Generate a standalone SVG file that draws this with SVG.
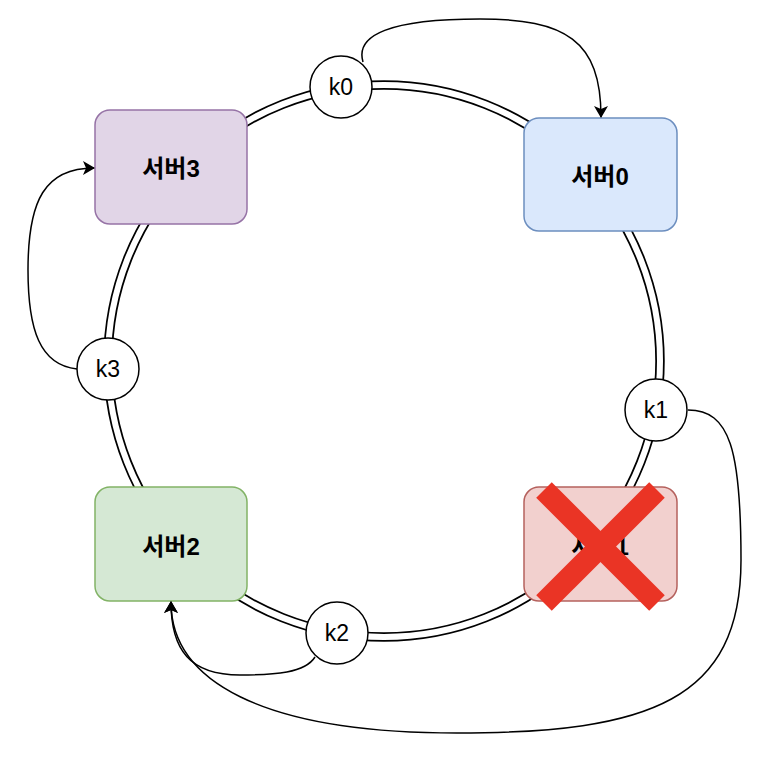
<svg xmlns="http://www.w3.org/2000/svg" width="760" height="758" viewBox="0 0 760 758">
<defs>
<marker id="arr" viewBox="0 0 12 14" refX="11" refY="7" markerWidth="12" markerHeight="14" markerUnits="userSpaceOnUse" orient="auto">
<path d="M0,0 L12,7 L0,14 L3,7 Z" fill="#000"/>
</marker>
<style>
.box{stroke-width:1.5}
.lbl{font-family:"Liberation Sans","Noto Sans CJK KR",sans-serif;font-size:24px;font-weight:bold;fill:#000;text-anchor:middle;dominant-baseline:central}
.k{fill:#fff;stroke:#000;stroke-width:1.5}
.kt{font-family:"Liberation Sans","Noto Sans CJK KR",sans-serif;font-size:23px;fill:#000;text-anchor:middle;dominant-baseline:central}
.c{fill:none;stroke:#000;stroke-width:1.5}
</style>
</defs>
<rect width="760" height="758" fill="#fff"/>
<g id="ring">
<circle cx="384" cy="361" r="276" fill="none" stroke="#000" stroke-width="9.5"/>
<circle cx="384" cy="361" r="276" fill="none" stroke="#fff" stroke-width="6"/>
</g>
<g id="server3">
<rect class="box" x="95" y="110" width="152" height="114" rx="15" fill="#e1d5e7" stroke="#9673a6"/>
<text class="lbl" x="171" y="168">서버3</text>
</g>
<g id="server0">
<rect class="box" x="524" y="118" width="153" height="113" rx="15" fill="#dae8fc" stroke="#6c8ebf"/>
<text class="lbl" x="600" y="176">서버0</text>
</g>
<g id="server2">
<rect class="box" x="95" y="487" width="152" height="114" rx="15" fill="#d5e8d4" stroke="#82b366"/>
<text class="lbl" x="171" y="546">서버2</text>
</g>
<g id="server1">
<rect class="box" x="524" y="487" width="153" height="114" rx="15" fill="#f2d0ce" stroke="#b5615d"/>
<text class="lbl" x="600" y="546">서버1</text>
<line x1="544" y1="490" x2="657" y2="603" stroke="#ea3425" stroke-width="22"/>
<line x1="657" y1="490" x2="544" y2="603" stroke="#ea3425" stroke-width="22"/>
</g>
<g id="k0">
<circle class="k" cx="341" cy="87" r="31"/>
<text class="kt" x="341" y="87">k0</text>
</g>
<g id="k1">
<circle class="k" cx="656" cy="410" r="31"/>
<text class="kt" x="656" y="410">k1</text>
</g>
<g id="k2">
<circle class="k" cx="337" cy="633" r="31"/>
<text class="kt" x="337" y="633">k2</text>
</g>
<g id="k3">
<circle class="k" cx="108" cy="369" r="31"/>
<text class="kt" x="108" y="369">k3</text>
</g>
<g id="connectors">
<path class="c" d="M363,62 C355,35 390,19 480,19 C565,19 601,40 601,117" marker-end="url(#arr)"/>
<path class="c" d="M77,369 C40,365 28,330 28,270 C28,200 45,168 94,168" marker-end="url(#arr)"/>
<path class="c" d="M315,657 C305,673 275,675 240,675 C190,675 171,650 171,602" marker-end="url(#arr)"/>
<path class="c" d="M688,410 C730,410 741,450 741,560 C741,700 650,733 457,733 C260,733 171,680 171,602" marker-end="url(#arr)"/>
</g>
</svg>
